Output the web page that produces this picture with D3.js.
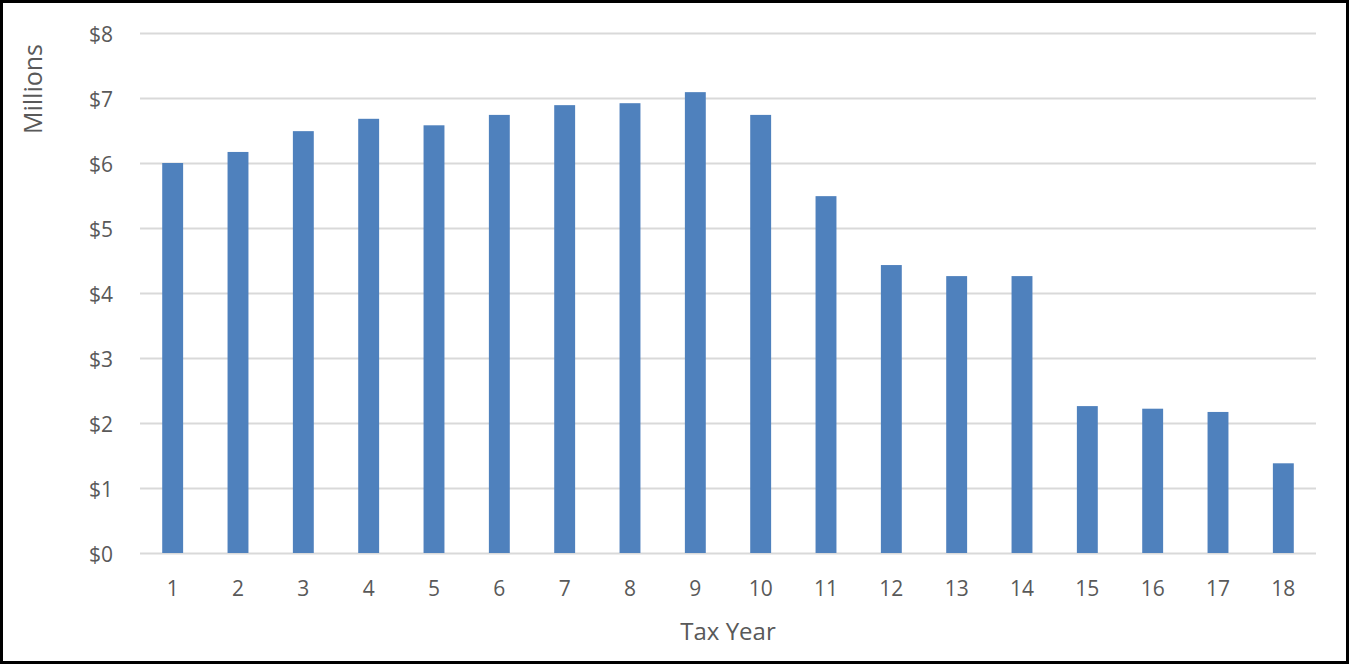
<!DOCTYPE html>
<html><head><meta charset="utf-8">
<script src="https://cdn.jsdelivr.net/npm/d3@7"></script>
<style>
html,body{margin:0;padding:0;background:#fff;}
svg{display:block;}
</style></head>
<body>
<script>
const categories = ["1","2","3","4","5","6","7","8","9","10","11","12","13","14","15","16","17","18"];
const values = [6.00, 6.17, 6.49, 6.68, 6.58, 6.74, 6.89, 6.92, 7.09, 6.74, 5.49, 4.43, 4.26, 4.26, 2.26, 2.22, 2.17, 1.38];
const yTicks = [0,1,2,3,4,5,6,7,8];
const yTitle = "Millions";
const xTitle = "Tax Year";

(function(){
const W = 1350, H = 665;
const svg = d3.select("body").append("svg").attr("width", W).attr("height", H);
svg.append("rect").attr("x",1.5).attr("y",1.5).attr("width",W-4).attr("height",H-4)
  .attr("fill","#fff").attr("stroke","#000").attr("stroke-width",3);

const pLeft = 140, pRight = 1316, pTop = 33, pBottom = 553;
const x = d3.scaleBand().domain(categories).range([pLeft, pRight]).paddingInner(0.68).paddingOuter(0.34);
const y = d3.scaleLinear().domain([0, 8]).range([pBottom, pTop]);

const font = "'Open Sans', 'Liberation Sans', sans-serif";
const txt = "#595959";

const yAxis = d3.axisLeft(y).tickValues(yTicks).tickSize(-(pRight-pLeft)).tickFormat(d => "$" + d);
const gy = svg.append("g").attr("transform", `translate(${pLeft},0)`).call(yAxis);
gy.select(".domain").remove();
gy.selectAll(".tick line").attr("stroke","#d9d9d9").attr("stroke-width",2);
gy.selectAll(".tick text").attr("x",-27).attr("dy","0").attr("dominant-baseline","central")
  .attr("fill",txt).style("font-family",font).style("font-size","21px");

svg.append("g").selectAll("rect").data(values).join("rect")
  .attr("x",(d,i)=>x(categories[i]))
  .attr("width",x.bandwidth())
  .attr("y",d=>y(d))
  .attr("height",d=>pBottom - y(d))
  .attr("fill","#4f81bd");

const xAxis = d3.axisBottom(x).tickSize(0).tickPadding(0);
const gx = svg.append("g").attr("transform",`translate(0,${pBottom})`).call(xAxis);
gx.select(".domain").remove();
gx.selectAll(".tick text").attr("y",35).attr("dy","0").attr("dominant-baseline","central")
  .attr("fill",txt).style("font-family",font).style("font-size","21px");

svg.append("text").attr("x",(pLeft+pRight)/2 + 0).attr("y",630).attr("text-anchor","middle")
  .attr("dominant-baseline","central").attr("fill",txt).style("font-family",font).style("font-size","24px").text(xTitle);

svg.append("text").attr("transform","translate(32,89) rotate(-90)").attr("text-anchor","middle")
  .attr("dominant-baseline","central").attr("fill",txt).style("font-family",font).style("font-size","25px").text(yTitle);
})();
</script>
</body></html>
